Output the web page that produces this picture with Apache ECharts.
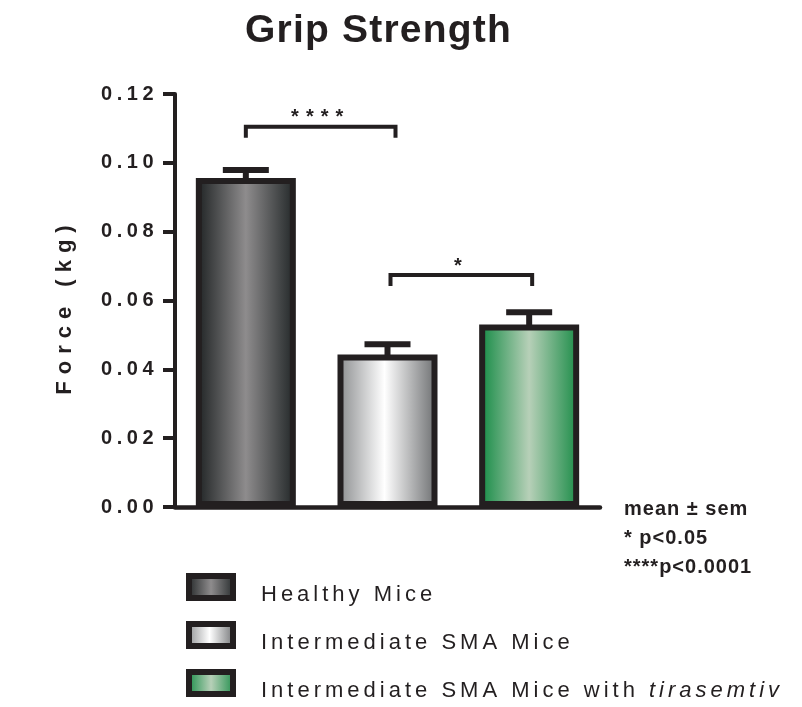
<!DOCTYPE html>
<html>
<head>
<meta charset="utf-8">
<script src="https://cdn.jsdelivr.net/npm/echarts@6/dist/echarts.min.js"></script>
<style>
  html, body { margin: 0; padding: 0; background: #ffffff; }
  #chart { width: 802px; height: 707px; }
</style>
</head>
<body>
<div id="chart"></div>
<script>
// ---------------- DATA ----------------
const groupNames = ['Healthy Mice', 'Intermediate SMA Mice', 'Intermediate SMA Mice with tirasemtiv'];
const meanForce = [0.0956, 0.0443, 0.0530];
const semForce = [0.0023, 0.0030, 0.0036];
const yMin = 0, yMax = 0.12, yStep = 0.02;
const bracketPairs = [[0, 1], [1, 2]];
const bracketLevels = [0.1105, 0.0674];
const bracketLabels = ['****', '*'];
const noteLines = ['mean \u00b1 sem', '* p<0.05', '****p<0.0001'];
const italicWord = 'tirasemtiv';
const chartTitle = 'Grip Strength';
const yAxisName = 'Force (kg)';

// ---------------- STYLE ----------------
const INK = '#231f20';
const FONT = "'Liberation Sans', Arial";
// pixel nudges of bracket ends [left, right] (style only)
const bracketNudge = [[0, 8], [3, 3]];
const bracketDrop = 11;

// letter spacing (tracking) for canvas text, keyed by a marker family name "spcNN" (NN = tenths of px)
(function () {
  const P = CanvasRenderingContext2D.prototype;
  if (!('letterSpacing' in P)) return;
  const re = /spc(\d+)/;
  function apply(ctx, t) {
    const m = re.exec(ctx.font);
    const v = (m && t !== '\u56fd') ? (m[1] / 10) + 'px' : '0px';
    if (ctx.letterSpacing !== v) ctx.letterSpacing = v;
  }
  const ft = P.fillText, mt = P.measureText;
  P.fillText = function (t, x, y, w) {
    apply(this, t);
    return w === undefined ? ft.call(this, t, x, y) : ft.call(this, t, x, y, w);
  };
  P.measureText = function (t) { apply(this, t); return mt.call(this, t); };
})();
const fam = (n) => FONT + ', spc' + n;

const gradients = [
  [['0', '#1c2021'], ['0.5', '#8e8c8d'], ['1', '#202526']],
  [['0', '#888a8c'], ['0.47', '#ffffff'], ['1', '#6a6c6e']],
  [['0', '#118942'], ['0.5', '#b7d0b8'], ['1', '#198b46']]
];
function grad(stops) {
  return new echarts.graphic.LinearGradient(0, 0, 1, 0,
    stops.map(s => ({ offset: +s[0], color: s[1] })));
}

const chart = echarts.init(document.getElementById('chart'), null, { renderer: 'canvas' });

const barSeries = groupNames.map((name, i) => ({
  type: 'bar',
  name: name,
  data: groupNames.map((_, j) => (j === i ? meanForce[i] : '-')),
  barWidth: 100,
  barGap: '-100%',
  itemStyle: { color: grad(gradients[i]), borderColor: INK, borderWidth: 6 },
  emphasis: { disabled: true },
  silent: true,
  z: 2
}));

const errorSeries = {
  type: 'custom',
  name: 'sem',
  silent: true,
  z: 3,
  data: meanForce.map((m, i) => [i, m, m + semForce[i]]),
  renderItem: function (params, api) {
    const i = api.value(0);
    const base = api.coord([i, api.value(1)]);
    const top = api.coord([i, api.value(2)]);
    const x = base[0];
    return {
      type: 'group',
      children: [
        { type: 'rect', shape: { x: x - 3, y: top[1], width: 6, height: base[1] - top[1] + 1 }, style: { fill: INK } },
        { type: 'rect', shape: { x: x - 23, y: top[1] - 3, width: 46, height: 6 }, style: { fill: INK } }
      ]
    };
  }
};

const bracketSeries = {
  type: 'custom',
  name: 'sig',
  silent: true,
  z: 3,
  data: bracketPairs.map((p, k) => [p[0], p[1], bracketLevels[k], k]),
  renderItem: function (params, api) {
    const k = api.value(3);
    const a = api.coord([api.value(0), api.value(2)]);
    const b = api.coord([api.value(1), api.value(2)]);
    const x1 = a[0] + bracketNudge[k][0];
    const x2 = b[0] + bracketNudge[k][1];
    const y = a[1];
    return {
      type: 'group',
      children: [
        { type: 'polyline', shape: { points: [[x1, y + bracketDrop], [x1, y], [x2, y], [x2, y + bracketDrop]] },
          style: { stroke: INK, lineWidth: 4, fill: null, lineJoin: 'miter', lineCap: 'butt' } },
        { type: 'text', x: (x1 + x2) / 2, y: y - 9,
          style: { text: bracketLabels[k], font: 'bold 20px ' + fam(70), fill: INK, align: 'center', verticalAlign: 'middle' } }
      ]
    };
  }
};

const option = {
  animation: false,
  backgroundColor: '#ffffff',
  title: {
    text: chartTitle,
    left: 245,
    top: 12,
    padding: 0,
    textStyle: { fontSize: 39, fontWeight: 'bold', fontFamily: fam(12), color: INK }
  },
  grid: { left: 175, right: 202, top: 94, bottom: 200, containLabel: false, outerBoundsMode: 'none' },
  legend: {
    data: groupNames,
    orient: 'vertical',
    left: 186,
    top: 573,
    height: 134,
    width: 616,
    padding: 0,
    icon: 'rect',
    itemWidth: 44,
    itemHeight: 22,
    itemGap: 15,
    selectedMode: false,
    itemStyle: { borderWidth: 6, borderColor: INK },
    formatter: function (n) {
      if (n.endsWith(italicWord)) {
        return '{n|' + n.slice(0, n.length - italicWord.length) + '}{i|' + italicWord + '}';
      }
      return '{n|' + n + '}';
    },
    textStyle: {
      padding: [16, 0, 0, 23],
      rich: {
        n: { fontSize: 22, fontFamily: fam(40), color: INK },
        i: { fontSize: 22, fontFamily: fam(40), fontStyle: 'italic', color: INK }
      }
    }
  },
  xAxis: {
    type: 'category',
    data: groupNames,
    axisLine: { show: true, lineStyle: { color: INK, width: 4.5 } },
    axisTick: { show: false },
    axisLabel: { show: false },
    splitLine: { show: false }
  },
  yAxis: {
    type: 'value',
    min: yMin,
    max: yMax,
    interval: yStep,
    name: yAxisName,
    nameLocation: 'middle',
    nameGap: 99,
    nameRotate: 90,
    nameTextStyle: { fontSize: 22, fontWeight: 'bold', fontFamily: fam(70), color: INK, padding: [0, 12, 0, 0] },
    axisLine: { show: true, lineStyle: { color: INK, width: 4 } },
    axisTick: { show: true, length: 12, lineStyle: { color: INK, width: 4 } },
    axisLabel: {
      margin: 17,
      fontSize: 20,
      fontWeight: 'bold',
      fontFamily: fam(45),
      color: INK,
      formatter: v => v.toFixed(2)
    },
    splitLine: { show: false }
  },
  graphic: noteLines.map((t, i) => ({
    type: 'text',
    x: 624,
    y: 509 + i * 29,
    silent: true,
    style: { text: t, font: 'bold 20px ' + fam(10), fill: INK, verticalAlign: 'middle', align: 'left' }
  })),
  series: barSeries.concat([errorSeries, bracketSeries])
};

chart.setOption(option);
</script>
</body>
</html>
